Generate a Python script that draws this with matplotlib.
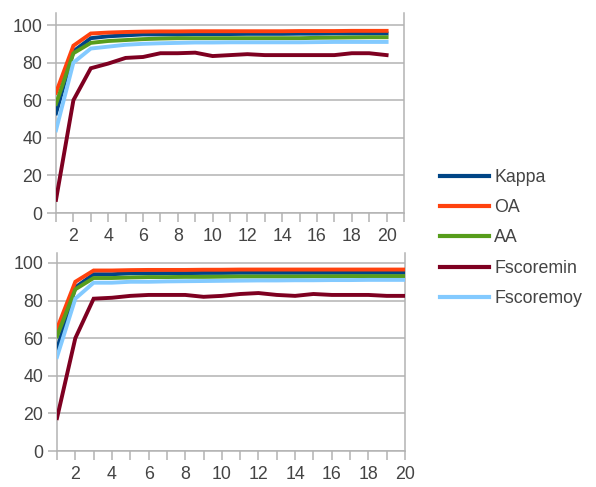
import matplotlib
matplotlib.use("Agg")
import matplotlib.pyplot as plt
from matplotlib.lines import Line2D

plt.rcParams['font.family'] = ['Liberation Sans', 'DejaVu Sans']

x = list(range(1, 21))
series_names = ["Kappa", "OA", "AA", "Fscoremin", "Fscoremoy"]
colors = ["#004586", "#ff420e", "#579d1c", "#7e0021", "#83caff"]

# Top chart
top_kappa = [53, 86, 93, 94, 94.5, 95, 95, 95, 95.2, 95.2, 95.2, 95.3, 95.3, 95.3, 95.4, 95.4, 95.5, 95.5, 95.5, 95.5]
top_oa = [64, 89, 95.5, 96, 96.3, 96.5, 96.6, 96.6, 96.7, 96.7, 96.7, 96.7, 96.7, 96.7, 96.8, 96.8, 96.8, 96.9, 96.9, 96.9]
top_aa = [58, 85, 90.5, 91.5, 92, 92.5, 92.8, 93, 93, 93, 93, 93, 93, 93, 93, 93.2, 93.3, 93.4, 93.5, 93.5]
top_fmin = [7, 60, 77, 79.5, 82.5, 83, 85, 85, 85.3, 83.5, 84, 84.5, 84, 84, 84, 84, 84, 85, 85, 84]
top_fmoy = [44, 80, 87.5, 88.5, 89.5, 90, 90.3, 90.5, 90.7, 90.7, 90.8, 90.8, 90.8, 90.8, 90.8, 90.9, 91, 91, 91, 91]

# Bottom chart
bot_kappa = [54, 87, 94, 94, 94.5, 94.5, 94.6, 94.6, 94.7, 94.7, 94.8, 94.8, 94.8, 94.8, 94.8, 94.8, 94.8, 94.8, 94.8, 94.8]
bot_oa = [65, 90, 96, 96, 96.2, 96.3, 96.3, 96.3, 96.4, 96.4, 96.5, 96.5, 96.5, 96.5, 96.5, 96.5, 96.5, 96.5, 96.5, 96.5]
bot_aa = [61, 86, 92, 92, 92.3, 92.5, 92.5, 92.6, 92.6, 92.7, 92.8, 92.8, 92.8, 92.8, 92.9, 92.9, 93, 93, 93, 93]
bot_fmin = [17.5, 60, 81, 81.5, 82.5, 83, 83, 83, 82, 82.5, 83.5, 84, 83, 82.5, 83.5, 83, 83, 83, 82.5, 82.5]
bot_fmoy = [50, 81, 89.5, 89.5, 90, 90, 90.2, 90.3, 90.4, 90.5, 90.6, 90.7, 90.7, 90.8, 90.8, 90.9, 90.9, 91, 91, 91]

top_data = [top_kappa, top_oa, top_aa, top_fmin, top_fmoy]
bot_data = [bot_kappa, bot_oa, bot_aa, bot_fmin, bot_fmoy]

y_ticks = [0, 20, 40, 60, 80, 100]

W, H = 596, 487
fig = plt.figure(figsize=(W / 100, H / 100), dpi=100)

grid_c = "#b3b3b3"
text_c = "#444444"
FS = 12.8


def make_ax(rect, data, xmax, ymax):
    ax = fig.add_axes(rect)
    for vals, c in zip(data, colors):
        ax.plot(x, vals, color=c, lw=2.8, solid_joinstyle='miter', zorder=3)
    ax.set_xlim(1, xmax)
    ax.set_ylim(0, ymax)
    ax.set_yticks(y_ticks)
    ax.set_yticklabels([str(v) for v in y_ticks])
    xt = list(range(1, xmax + 1))
    ax.set_xticks(xt)
    ax.set_xticklabels([str(v) if (v % 2 == 0 and v <= 20) else "" for v in xt])
    ax.grid(axis='y', color=grid_c, lw=1.1, zorder=1)
    ax.spines["top"].set_visible(False)
    for s in ["left", "right", "bottom"]:
        ax.spines[s].set_color(grid_c)
        ax.spines[s].set_linewidth(1.1)
    ax.tick_params(axis='both', colors=grid_c, labelcolor=text_c, labelsize=FS,
                   length=6.5, width=1.1, direction='out')
    ax.tick_params(axis='x', pad=4)
    ax.tick_params(axis='y', pad=3.5)
    ax.set_facecolor("white")
    return ax


ax1 = make_ax([56 / W, (H - 213) / H, (404 - 56) / W, 200 / H], top_data, 21, 106.4)
ax2 = make_ax([57 / W, (H - 451) / H, (405 - 57) / W, 198 / H], bot_data, 20, 105.3)

handles = [Line2D([], [], color=c, lw=3) for c in colors]
leg = fig.legend(handles, series_names, loc='center left',
                 bbox_to_anchor=(433 / W, (H - 238) / H), frameon=False,
                 fontsize=FS, handlelength=2.75, handletextpad=0.3,
                 labelspacing=0.75, borderaxespad=0, borderpad=0.4)
for t in leg.get_texts():
    t.set_color(text_c)

fig.savefig("out.png", dpi=100, facecolor="white")
